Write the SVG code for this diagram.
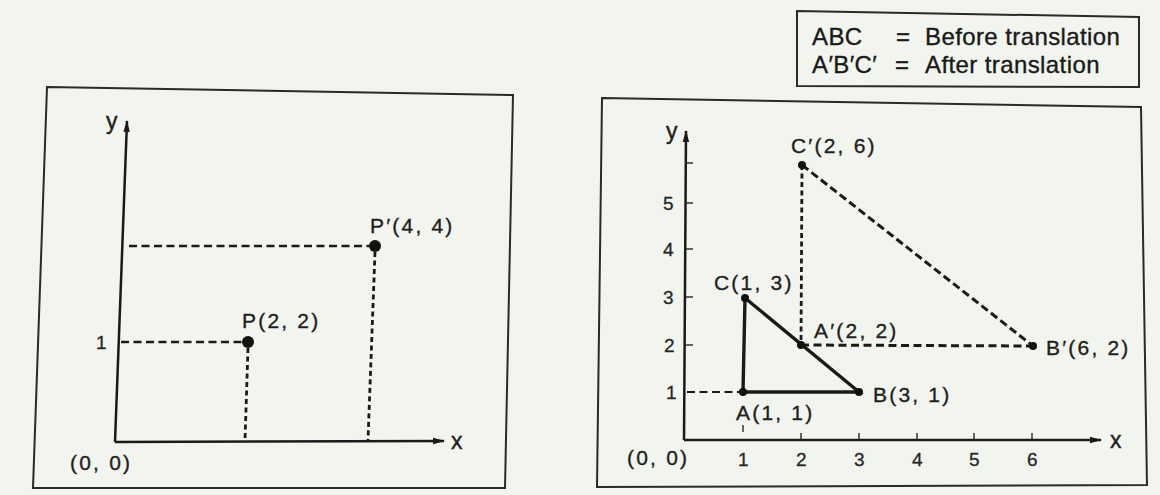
<svg xmlns="http://www.w3.org/2000/svg" width="1160" height="495" viewBox="0 0 1160 495">
<defs>
<marker id="arr" viewBox="0 0 12 8" refX="11" refY="4" markerWidth="13" markerHeight="8" markerUnits="userSpaceOnUse" orient="auto">
<path d="M0,0.8 L12,4 L0,7.2 Z" fill="#1a1a1a"/>
</marker>
<style>
.frame{fill:none;stroke:#2a2a2a;stroke-width:2}
.axis{fill:none;stroke:#1a1a1a;stroke-width:2.5}
.tick{fill:none;stroke:#333;stroke-width:1.5}
.dh{fill:none;stroke:#1a1a1a;stroke-width:2.6;stroke-dasharray:8 4.5}
.dv{fill:none;stroke:#1a1a1a;stroke-width:2.8;stroke-dasharray:5 3.5}
.dd{fill:none;stroke:#1a1a1a;stroke-width:3;stroke-dasharray:8 4}
.solid{fill:none;stroke:#1a1a1a;stroke-width:3.4;stroke-linecap:round}
.dot{fill:#111}
.lbl{font-family:"Liberation Sans",Arial,sans-serif;font-size:21px;letter-spacing:2.2px;fill:#1f1f1f;stroke:#1f1f1f;stroke-width:0.35}
.num{font-family:"Liberation Sans",Arial,sans-serif;font-size:19px;fill:#262626;stroke:#262626;stroke-width:0.3}
.leg{font-family:"Liberation Sans",Arial,sans-serif;font-size:24px;letter-spacing:0.4px;fill:#1a1a1a;stroke:#1a1a1a;stroke-width:0.35}
.ax{font-family:"Liberation Sans",Arial,sans-serif;font-size:23px;fill:#1f1f1f;stroke:#1f1f1f;stroke-width:0.4}
</style>
</defs>
<rect width="1160" height="495" fill="#f2f4ee"/>

<g id="legend">
<polygon class="frame" points="797,11 1139,17 1139,87 797,86"/>
<text class="leg" x="812" y="45">ABC</text>
<text class="leg" x="896" y="45">=</text>
<text class="leg" x="925" y="45">Before translation</text>
<text class="leg" x="812" y="73">A′B′C′</text>
<text class="leg" x="895" y="73">=</text>
<text class="leg" x="925" y="73">After translation</text>
</g>

<g id="left-panel">
<polygon class="frame" points="47,87 513,95 505,488 33,488"/>
<g id="left-axes">
<line class="axis" x1="115" y1="442" x2="127" y2="121" marker-end="url(#arr)"/>
<line class="axis" x1="115" y1="442" x2="444" y2="441" marker-end="url(#arr)"/>
<text class="ax" x="106" y="129">y</text>
<text class="ax" x="451" y="449">x</text>
<text class="lbl" x="70" y="470">(0, 0)</text>
<text class="num" x="96" y="349">1</text>
</g>
<g id="left-connectors">
<line class="dh" x1="121" y1="342" x2="243" y2="342"/>
<line class="dh" x1="129" y1="246" x2="369" y2="246"/>
<line class="dv" x1="248" y1="348" x2="245" y2="440"/>
<line class="dv" x1="375" y1="252" x2="368" y2="440"/>
</g>
<g id="node-P">
<circle class="dot" cx="248" cy="342" r="6"/>
<text class="lbl" x="242" y="328">P(2, 2)</text>
</g>
<g id="node-Pp">
<circle class="dot" cx="375" cy="246" r="6"/>
<text class="lbl" x="370" y="233">P′(4, 4)</text>
</g>
</g>

<g id="right-panel">
<polygon class="frame" points="602,98 1141,107 1147,485 597,487"/>
<g id="right-axes">
<line class="axis" x1="684" y1="440" x2="686" y2="131" marker-end="url(#arr)"/>
<line class="axis" x1="684" y1="440" x2="1101" y2="440" marker-end="url(#arr)"/>
<text class="ax" x="666" y="139">y</text>
<text class="ax" x="1110" y="448">x</text>
<text class="lbl" x="627" y="465">(0, 0)</text>
<g class="tick">
<line x1="743" y1="425" x2="743" y2="432"/>
<line x1="801" y1="433" x2="801" y2="439"/>
<line x1="859" y1="433" x2="859" y2="439"/>
<line x1="917" y1="433" x2="917" y2="439"/>
<line x1="974" y1="433" x2="974" y2="439"/>
<line x1="1032" y1="433" x2="1032" y2="439"/>
<line x1="686" y1="345" x2="693" y2="345"/>
<line x1="686" y1="297" x2="693" y2="297"/>
<line x1="686" y1="249" x2="693" y2="249"/>
<line x1="686" y1="203" x2="693" y2="203"/>
<line x1="686" y1="163" x2="693" y2="163"/>
</g>
<text class="num" x="738" y="466">1</text>
<text class="num" x="796" y="466">2</text>
<text class="num" x="854" y="466">3</text>
<text class="num" x="912" y="466">4</text>
<text class="num" x="969" y="466">5</text>
<text class="num" x="1027" y="466">6</text>
<text class="num" x="666" y="399">1</text>
<text class="num" x="664" y="352">2</text>
<text class="num" x="663" y="304">3</text>
<text class="num" x="663" y="256">4</text>
<text class="num" x="663" y="210">5</text>
</g>
<g id="right-connectors">
<line class="dh" x1="687" y1="392" x2="741" y2="392" style="stroke-width:2.2"/>
<polyline class="solid" points="743,392 859,392 745,298 743,392"/>
<line class="dv" x1="802" y1="165" x2="801" y2="345"/>
<line class="dh" x1="801" y1="345" x2="1033" y2="346" style="stroke-width:3"/>
<line class="dd" x1="802" y1="165" x2="1033" y2="346"/>
</g>
<g id="node-A"><circle class="dot" cx="743" cy="392" r="4"/><text class="lbl" x="736" y="420">A(1, 1)</text></g>
<g id="node-B"><circle class="dot" cx="859" cy="392" r="4"/><text class="lbl" x="873" y="402">B(3, 1)</text></g>
<g id="node-C"><circle class="dot" cx="745" cy="298" r="4"/><text class="lbl" x="714" y="290">C(1, 3)</text></g>
<g id="node-Ap"><circle class="dot" cx="801" cy="345" r="4"/><text class="lbl" x="814" y="338">A′(2, 2)</text></g>
<g id="node-Bp"><circle class="dot" cx="1033" cy="346" r="4"/><text class="lbl" x="1046" y="355">B′(6, 2)</text></g>
<g id="node-Cp"><circle class="dot" cx="802" cy="165" r="4"/><text class="lbl" x="791" y="153">C′(2, 6)</text></g>
</g>
</svg>
